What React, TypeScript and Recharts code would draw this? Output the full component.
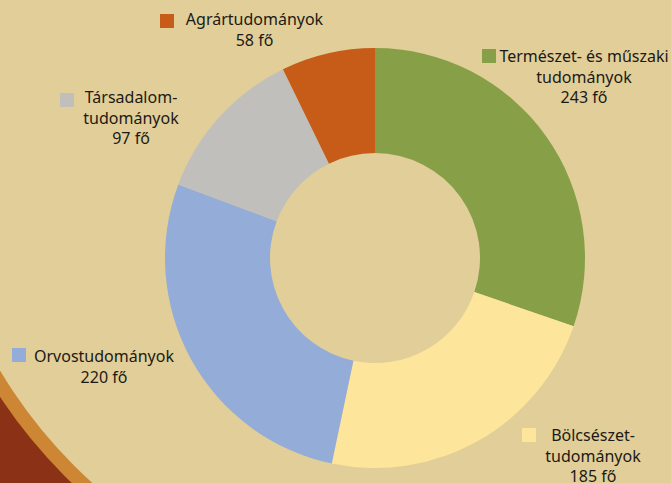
import React from "react";
import { PieChart, Pie, Cell } from "recharts";

const names = [
  "Természet- és műszaki tudományok",
  "Bölcsészettudományok",
  "Orvostudományok",
  "Társadalomtudományok",
  "Agrártudományok",
];
const values = [243, 185, 220, 97, 58];
const labelLines = [
  ["Természet- és műszaki", "tudományok"],
  ["Bölcsészet-", "tudományok"],
  ["Orvostudományok"],
  ["Társadalom-", "tudományok"],
  ["Agrártudományok"],
];

const colors = ["#87A048", "#FDE59B", "#93ADD8", "#C0BFBC", "#C65C18"];

// where each label block sits (square corner, text centre, first baseline)
const labelPos = [
  { sx: 482, sy: 49, cx: 584, y: 62 },
  { sx: 522, sy: 428, cx: 593, y: 441 },
  { sx: 12, sy: 348, cx: 104, y: 362 },
  { sx: 60, sy: 93, cx: 131, y: 103 },
  { sx: 160, sy: 14, cx: 254.5, y: 25 },
];

const data = names.map((name, i) => ({ name, value: values[i] }));

const W = 671;
const H = 483;

function renderLabel(props: any) {
  const i = props.index;
  const p = labelPos[i];
  const lines = [...labelLines[i], `${values[i]} fő`];
  return (
    <g key={`lbl-${i}`}>
      <rect x={p.sx} y={p.sy} width={14} height={14} fill={colors[i]} />
      {lines.map((t, j) => (
        <text
          key={j}
          x={p.cx}
          y={p.y + j * 20.5}
          textAnchor="middle"
          fontFamily="'Noto Sans', sans-serif"
          fontSize={16}
          fill="#1c1a16"
        >
          {t}
        </text>
      ))}
    </g>
  );
}

export default function App() {
  return (
    <div style={{ position: "absolute", left: 0, top: 0, width: W, height: H, overflow: "hidden" }}>
      <svg width={W} height={H} style={{ position: "absolute", left: 0, top: 0 }}>
        <rect width={W} height={H} fill="#8B3216" />
        <circle cx={420} cy={120} r={503} fill="#CD8634" />
        <circle cx={420} cy={120} r={489} fill="#E1CE98" />
      </svg>
      <div style={{ position: "absolute", left: 0, top: 0 }}>
        <PieChart width={W} height={H} margin={{ top: 0, right: 0, bottom: 0, left: 0 }}>
          <Pie
            data={data}
            dataKey="value"
            nameKey="name"
            cx={375}
            cy={258}
            innerRadius={105}
            outerRadius={210}
            startAngle={90}
            endAngle={-270}
            stroke="none"
            label={renderLabel}
            labelLine={false}
            isAnimationActive={false}
          >
            {data.map((d, i) => (
              <Cell key={`cell-${i}`} fill={colors[i]} />
            ))}
          </Pie>
        </PieChart>
      </div>
    </div>
  );
}
